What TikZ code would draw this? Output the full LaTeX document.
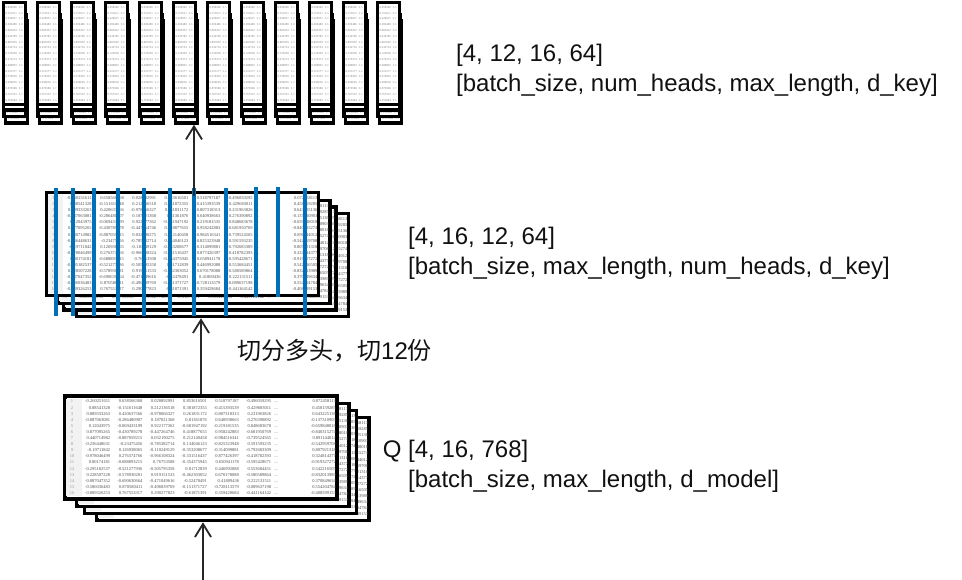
\documentclass[tikz,border=0pt]{standalone}
\usepackage[table]{xcolor}
\usepackage{array}
\usepackage{fontspec}
\setmainfont{Liberation Sans}
\newfontfamily\cjk{Noto Sans CJK SC}
\newfontfamily\cellfont{Liberation Serif}
\usetikzlibrary{positioning,arrows.meta}
\definecolor{cellink}{HTML}{505050}
\definecolor{idxink}{HTML}{999999}
\definecolor{headink}{HTML}{808080}
\definecolor{idxfill}{HTML}{F2F2F2}
\definecolor{cutblue}{HTML}{0070B8}
\definecolor{labelink}{HTML}{111111}
\newcolumntype{N}{w{r}{25pt}}
\newcommand{\qtable}{\setlength{\tabcolsep}{3.6pt}%
\begin{tabular}{@{}>{\columncolor{idxfill}[0pt][3.6pt]\color{idxink}}w{c}{12pt}*{6}{N}>{\hspace*{-4pt}}w{l}{25.4pt}N@{}}
1 & -0.260251611 & 0.658566368 & 0.028892991 & 0.853616501 & 0.518797187 & -0.496059295 & ... & 0.072458113\\
2 & 0.88541328 & -0.151611648 & 0.212136518 & 0.381872355 & -0.415393539 & 0.429683011 & ... & 0.458159285\\
3 & 0.889333263 & 0.420637566 & -0.978066327 & 0.261831172 & -0.807318313 & 0.231963826 & ... & 0.643225136\\
4 & -0.887063081 & -0.286480907 & 0.187021368 & 0.81361876 & 0.640938663 & 0.276390892 & ... & -0.137310903\\
5 & 0.12043975 & -0.069433199 & 0.922177362 & -0.681947192 & -0.219181535 & 0.848683678 & ... & -0.659848018\\
6 & 0.877095265 & -0.430789278 & -0.447264746 & 0.418877655 & 0.958242883 & -0.681950769 & ... & -0.840315274\\
7 & 0.440714982 & -0.887059215 & 0.032190275 & 0.212140458 & -0.984516341 & -0.739524565 & ... & 0.891144012\\
8 & -0.236448631 & -0.23475456 & -0.785382714 & 0.134046123 & -0.825323948 & 0.591593235 & ... & -0.542959708\\
9 & -0.19711842 & 0.126938065 & -0.110249129 & -0.353208677 & -0.314099881 & -0.792683309 & ... & 0.807921318\\
10 & -0.978046499 & 0.276374766 & -0.966108324 & -0.331516437 & 0.877426397 & -0.418782393 & ... & 0.324814377\\
11 & 0.80174181 & -0.688893215 & 0.76753508 & -0.354375945 & 0.650941178 & -0.595428671 & ... & -0.919327272\\
12 & -0.295182537 & -0.521277936 & -0.505795358 & 0.81712839 & 0.446992088 & 0.553684451 & ... & 0.542216505\\
13 & 0.228507228 & -0.578930281 & 0.919151533 & -0.462303052 & 0.670178088 & -0.580589864 & ... & -0.832013989\\
14 & -0.887047352 & -0.690630664 & -0.471049616 & -0.52478491 & 0.41809436 & 0.222131511 & ... & 0.370849634\\
15 & -0.586036483 & 0.870580411 & -0.496839769 & -0.151371727 & -0.728113579 & -0.089637198 & ... & 0.554204784\\
16 & -0.889326253 & 0.767553317 & 0.290277823 & -0.61871391 & 0.359428684 & -0.441164142 & ... & -0.408599153
\end{tabular}}
\newcommand{\headtable}{\setlength{\tabcolsep}{0pt}%
\begin{tabular}{@{}l@{\hspace{2pt}}>{\color{idxink}}l@{}}
0.658566 & 0.5\\ 0.151611 & 0.4\\ 0.420637 & 0.2\\ 0.286480 & 0.6\\ 0.069433 & 0.8\\ 0.430789 & 0.9\\
0.887059 & 0.9\\ 0.234754 & 0.8\\ 0.126938 & 0.3\\ 0.276374 & 0.8\\ 0.688893 & 0.6\\ 0.521277 & 0.4\\
0.578930 & 0.6\\ 0.690630 & 0.4\\ 0.870580 & 0.7\\ 0.767553 & 0.3\\ 0.355684 & 0.5
\end{tabular}}
\tikzset{
  sheet/.style={rectangle, draw=black, fill=white, line width=3.5pt, inner sep=0pt,
                minimum width=272pt, minimum height=103pt, text=cellink,
                font=\cellfont\fontsize{4.5}{6.1}\selectfont},
  headsheet/.style={rectangle, draw=black, fill=white, line width=3.4pt, inner sep=0pt,
                minimum width=22pt, minimum height=102pt, text=headink,
                font=\cellfont\fontsize{3}{5.8}\selectfont},
  shapelabel/.style={inner sep=0pt, align=left, text=labelink, font=\fontsize{24}{30}\selectfont},
  flow/.style={-{Straight Barb[length=13pt,width=16pt]}, line width=1.8pt, draw=black!85},
  cut/.style={line width=3.6pt, draw=cutblue}
}
\begin{document}
\begin{tikzpicture}[x=1pt,y=-1pt,on grid]
\useasboundingbox (0,0) rectangle (962,580);
% top row, one stack per head
\foreach \i in {0,...,11} {
  \node[headsheet] (h\i d) at (16.5+34*\i,72) {\headtable};
  \node[headsheet, above left=6.5pt and 1.5pt of h\i d] (h\i c) {\headtable};
  \node[headsheet, above left=6.5pt and 0.5pt of h\i c] (h\i b) {\headtable};
  \node[headsheet, above left=5.5pt and 0.3pt of h\i b] (h\i a) {\headtable};
}
% middle stack
\node[sheet] (m4) at (212.5,265) {\qtable};
\node[sheet, above left=6.7pt and 12.5pt of m4] (m3) {\qtable};
\node[sheet, above left=6.3pt and 6pt of m3] (m2) {\qtable};
\node[sheet, above left=8pt and 11.5pt of m2] (m1) {\qtable};
\foreach \x in {56,73,94,118,144,170,194,226,305} {
  \draw[cut] (\x,188) -- (\x,316);
}
\foreach \x in {256,278} {
  \draw[cut] (\x,187) -- (\x,297);
}
% bottom stack
\node[sheet] (q4) at (233,469) {\qtable};
\node[sheet, above left=7pt and 12.5pt of q4] (q3) {\qtable};
\node[sheet, above left=7pt and 7.5pt of q3] (q2) {\qtable};
\node[sheet, above left=7.5pt and 12pt of q2] (q1) {\qtable};
% labels
\node[shapelabel, anchor=west] (toplabel) at (456,70) {[4, 12, 16, 64]\\{}[batch\_size, num\_heads, max\_length, d\_key]};
\node[shapelabel, anchor=west] (midlabel) at (408,253) {[4, 16, 12, 64]\\{}[batch\_size, max\_length, num\_heads, d\_key]};
\node[shapelabel, anchor=west] (qlabel) at (408,466) {\llap{Q }[4, 16, 768]\\{}[batch\_size, max\_length, d\_model]};
\node[shapelabel, anchor=west] (cutlabel) at (237,351) {{\cjk 切分多头，切}12{\cjk 份}};
% arrows
\coordinate (qin) at (203,580);
\coordinate (headin) at (194,196);
\draw[flow] (qin) -- (qin |- q4.south);
\draw[flow] (q1.north) -- (q1.north |- m4.south);
\draw[flow] (headin) -- (headin |- h5d.south);
\end{tikzpicture}
\end{document}
